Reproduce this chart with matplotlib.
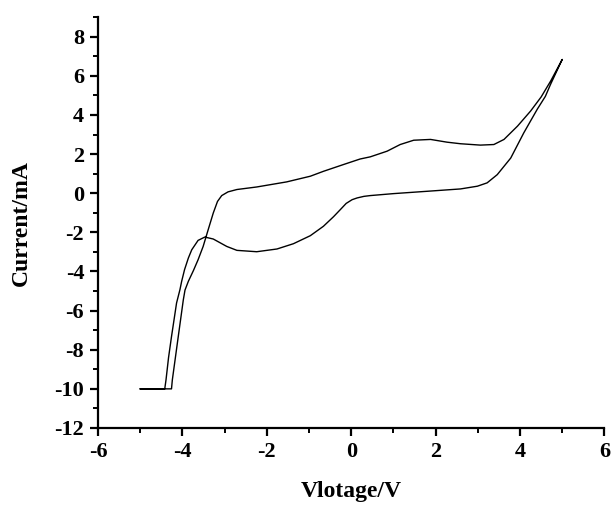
import numpy as np
import matplotlib
matplotlib.use("Agg")
import matplotlib.pyplot as plt
from matplotlib.ticker import MultipleLocator

# forward scan (lower branch), -5 V -> 5 V
v_fwd = [-5.0, -4.42, -4.39, -4.33, -4.26, -4.14, -4.06, -4.02, -3.95, -3.86,
         -3.78, -3.63, -3.47, -3.27, -2.95, -2.71, -2.24, -1.76, -1.37, -0.97,
         -0.66, -0.42, -0.26, -0.12, 0.02, 0.14, 0.30, 0.45, 1.00, 1.80,
         2.59, 2.99, 3.22, 3.46, 3.78, 4.09, 4.41, 4.60, 4.72, 5.0]
i_fwd = [-10.0, -10.0, -9.54, -8.40, -7.33, -5.61, -4.93, -4.51, -3.90, -3.31,
         -2.89, -2.41, -2.24, -2.34, -2.72, -2.92, -2.99, -2.85, -2.58, -2.17,
         -1.69, -1.20, -0.84, -0.52, -0.33, -0.24, -0.16, -0.12, -0.02, 0.10,
         0.22, 0.36, 0.53, 0.95, 1.80, 3.09, 4.30, 4.95, 5.55, 6.84]

# reverse scan (upper branch), 5 V -> -5 V
v_rev = [5.0, 4.73, 4.50, 4.25, 3.94, 3.62, 3.38, 3.06, 2.59, 2.27,
         1.88, 1.48, 1.16, 0.85, 0.45, 0.21, -0.18, -0.66, -0.97, -1.53,
         -2.24, -2.71, -2.92, -3.07, -3.17, -3.27, -3.39, -3.51, -3.63, -3.74,
         -3.86, -3.94, -3.98, -4.10, -4.24, -4.26, -5.0]
i_rev = [6.84, 5.75, 4.92, 4.20, 3.43, 2.75, 2.49, 2.46, 2.53, 2.61,
         2.75, 2.71, 2.49, 2.15, 1.86, 1.75, 1.47, 1.12, 0.87, 0.58,
         0.32, 0.19, 0.07, -0.12, -0.42, -1.01, -1.86, -2.72, -3.40, -3.95,
         -4.50, -4.95, -5.45, -7.33, -9.54, -10.0, -10.0]

plt.rcParams['font.family'] = ['Liberation Serif', 'DejaVu Serif']
plt.rcParams['font.weight'] = 'bold'
plt.rcParams['axes.unicode_minus'] = False

fig = plt.figure(figsize=(6.13, 5.05), dpi=100)
ax = fig.add_axes([0.160, 0.1525, 0.826, 0.8135])

v = np.array(v_fwd + v_rev)
i = np.array(i_fwd + i_rev)
ax.plot(v, i, color='black', linewidth=1.0)

ax.set_xlim(-6, 6)
ax.set_ylim(-12, 9)
ax.xaxis.set_major_locator(MultipleLocator(2))
ax.xaxis.set_minor_locator(MultipleLocator(1))
ax.yaxis.set_major_locator(MultipleLocator(2))
ax.yaxis.set_minor_locator(MultipleLocator(1))

for side in ['top', 'right']:
    ax.spines[side].set_visible(False)
for side in ['left', 'bottom']:
    ax.spines[side].set_linewidth(1.6)

ax.tick_params(which='major', direction='out', length=6, width=1.6, labelsize=16, pad=4)
ax.tick_params(which='minor', direction='out', length=3.5, width=1.4)
for lab in ax.get_xticklabels() + ax.get_yticklabels():
    lab.set_fontweight('bold')

ax.set_xlabel('Vlotage/V', fontsize=17, fontweight='bold', labelpad=14)
ax.set_ylabel('Current/mA', fontsize=17, fontweight='bold', labelpad=16)

fig.savefig('out.png', dpi=100)
